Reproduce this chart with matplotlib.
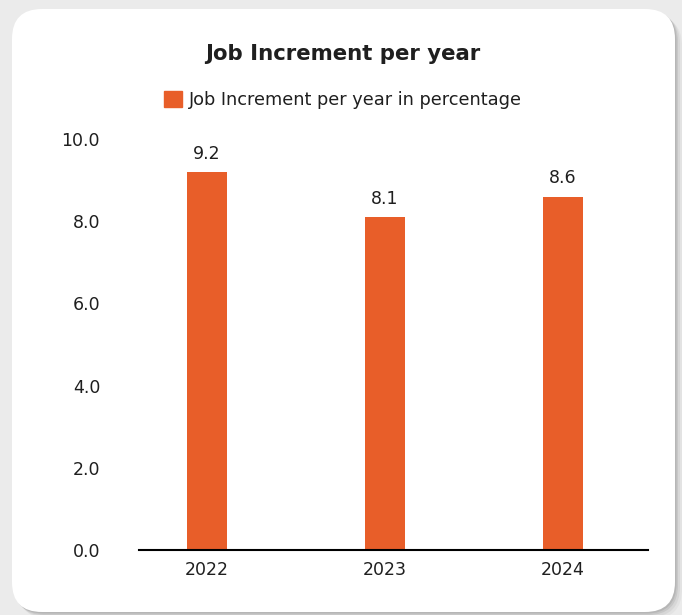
import matplotlib
matplotlib.use("Agg")
import matplotlib.pyplot as plt
from matplotlib.patches import FancyBboxPatch, Patch
from matplotlib.transforms import IdentityTransform

years = ["2022", "2023", "2024"]
increment = [9.2, 8.1, 8.6]
yticks = [0, 2, 4, 6, 8, 10]

bar_color = "#E85E29"
text_color = "#1f1f1f"

plt.rcParams["font.family"] = ["DejaVu Sans"]

fig = plt.figure(figsize=(6.82, 6.15), dpi=100)
fig.patch.set_facecolor("#EBEBEB")

# card with soft shadow (pixel coordinates), kept below the axes
for off, a in [(7, 0.05), (5, 0.08), (3, 0.12), (1.5, 0.15)]:
    sh = FancyBboxPatch((12 + off, 3 - off), 663, 603,
                        boxstyle="round,pad=0,rounding_size=30",
                        transform=IdentityTransform(), facecolor="#555555",
                        edgecolor="none", alpha=a, zorder=-3)
    fig.patches.append(sh)
card = FancyBboxPatch((12, 3), 663, 603, boxstyle="round,pad=0,rounding_size=30",
                      transform=IdentityTransform(), facecolor="white",
                      edgecolor="none", zorder=-2)
fig.patches.append(card)

ax = fig.add_axes([139 / 682, 65 / 615, 509 / 682, 411 / 615])
ax.set_facecolor("none")
x = list(range(len(years)))
bars = ax.bar(x, increment, width=0.225, color=bar_color, zorder=2)
for b, v in zip(bars, increment):
    ax.text(b.get_x() + b.get_width() / 2, v + 0.22, f"{v:.1f}",
            ha="center", va="bottom", fontsize=12.5, color=text_color)

ax.set_xlim(-0.382, 2.478)
ax.set_ylim(0, 10)
ax.set_xticks(x)
ax.set_xticklabels(years)
ax.set_yticks(yticks)
ax.set_yticklabels([f"{t:.1f}" for t in yticks])
ax.tick_params(axis="both", length=0, labelsize=12.5, colors=text_color)
ax.tick_params(axis="y", pad=28)
ax.tick_params(axis="x", pad=8)
for s in ["top", "right", "left"]:
    ax.spines[s].set_visible(False)
ax.spines["bottom"].set_color("black")
ax.spines["bottom"].set_linewidth(1.5)

fig.text(343 / 682, 1 - 54 / 615, "Job Increment per year", ha="center",
         va="center", fontsize=15.3, fontweight="bold", color=text_color)
fig.legend(handles=[Patch(color=bar_color)],
           labels=["Job Increment per year in percentage"],
           loc="center", bbox_to_anchor=(343 / 682, 1 - 100 / 615),
           frameon=False, fontsize=12.8, handlelength=1.0, handleheight=1.0,
           handletextpad=0.4, labelcolor=text_color)

fig.savefig("out.png", dpi=100, facecolor=fig.get_facecolor())
